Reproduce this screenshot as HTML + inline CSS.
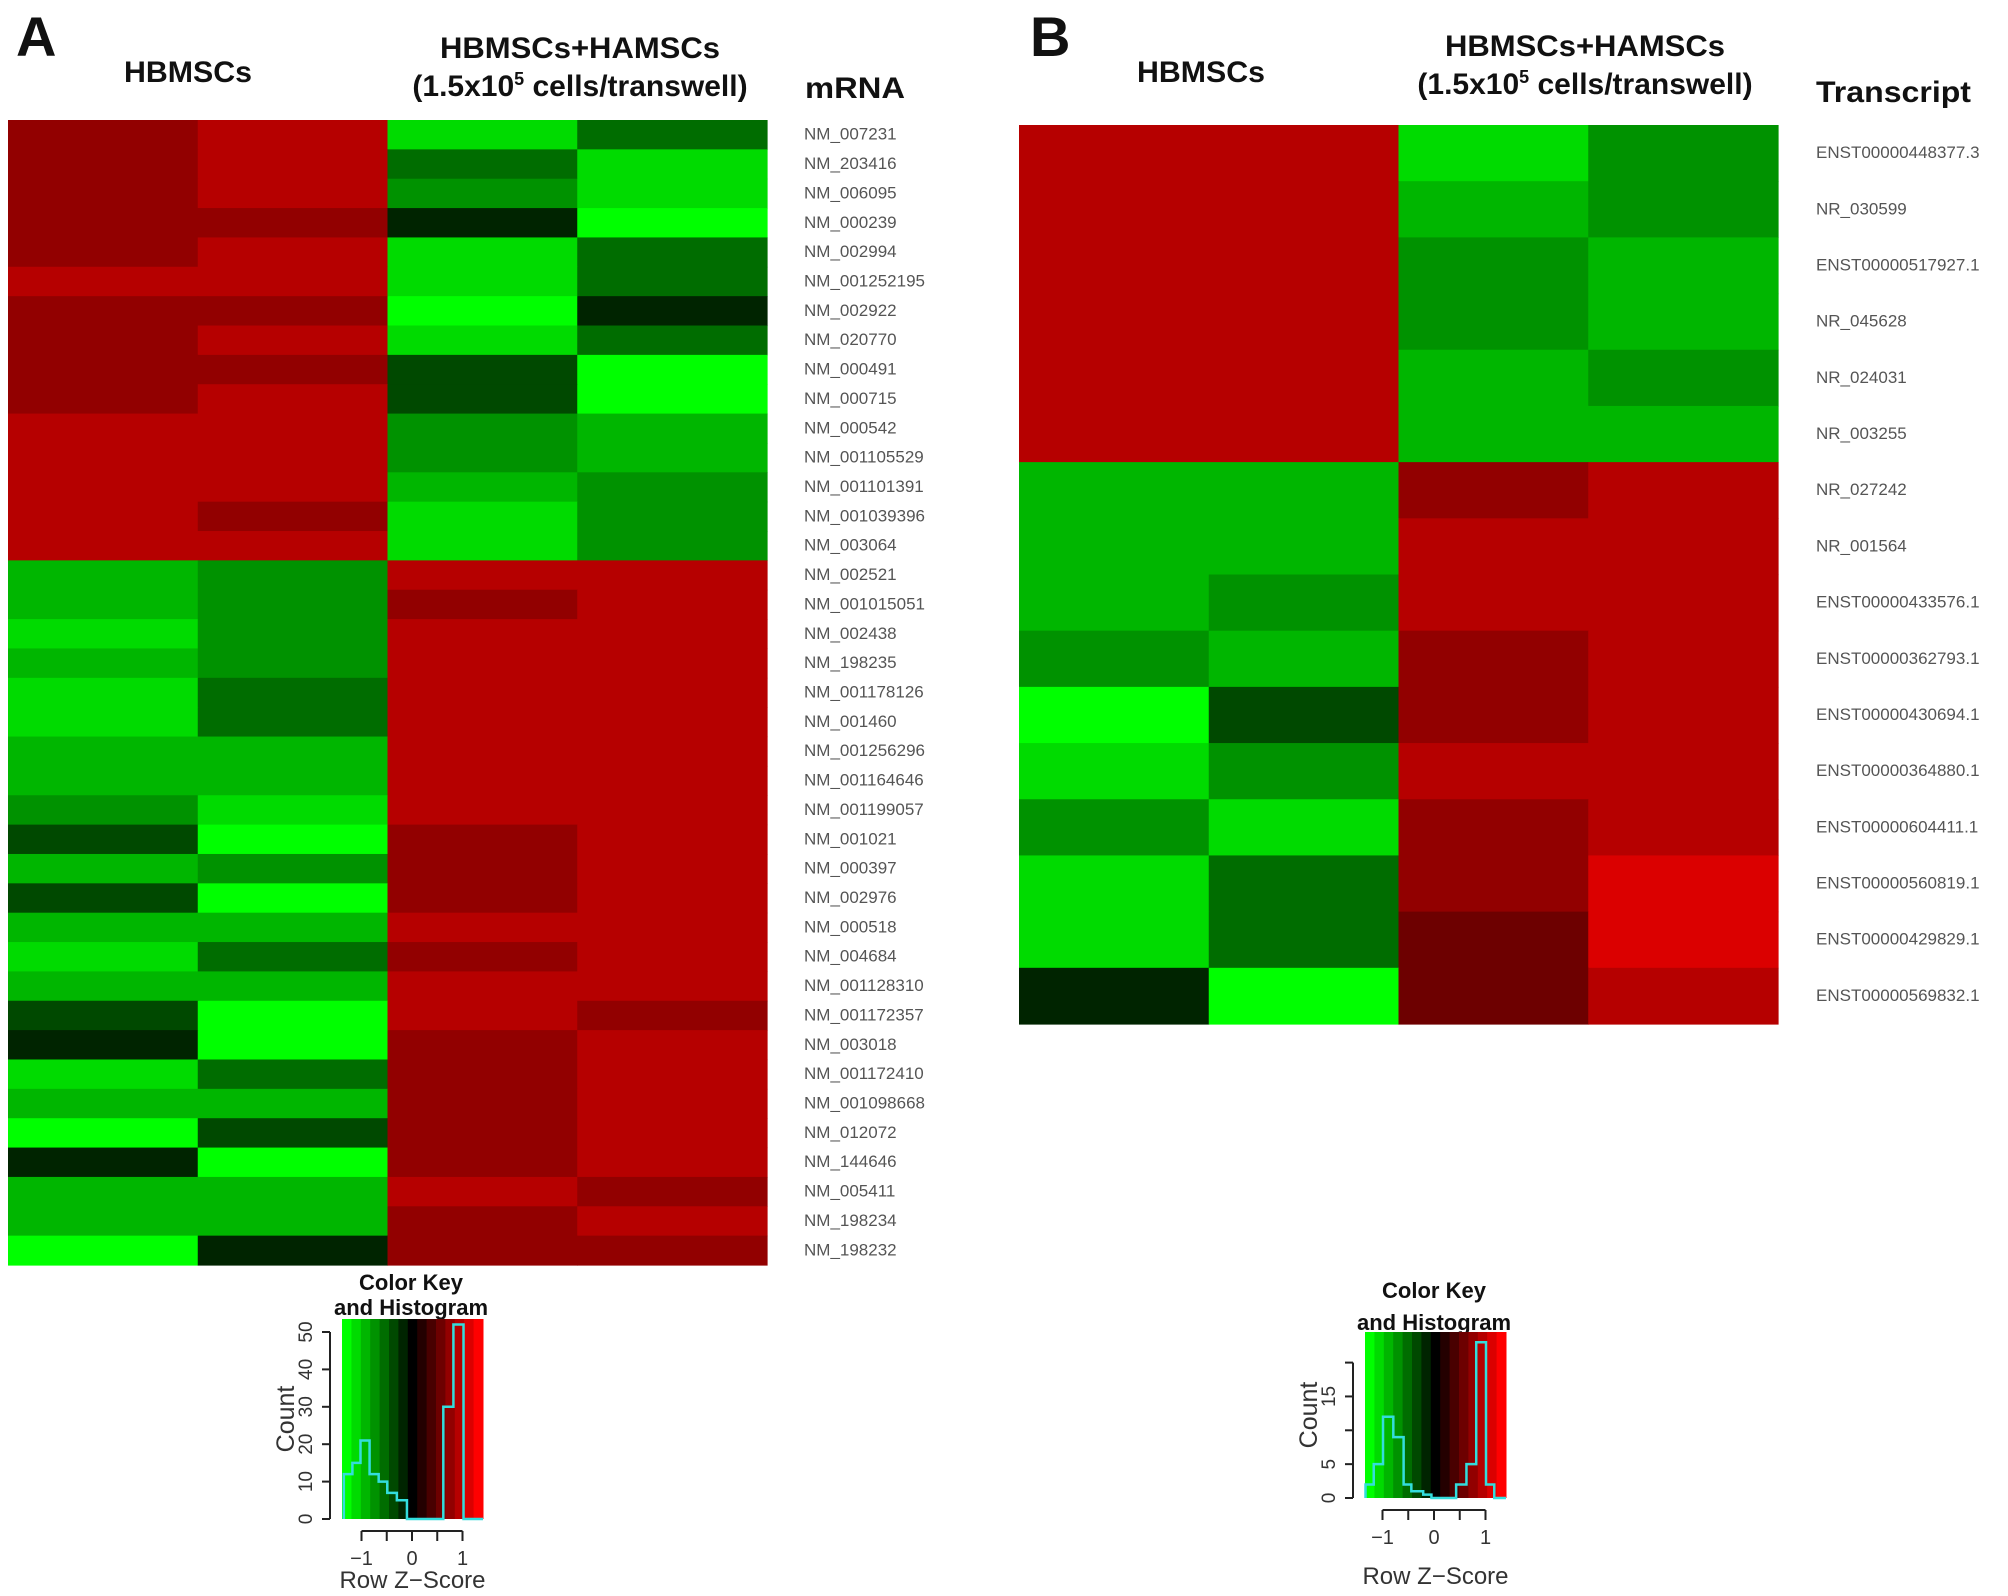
<!DOCTYPE html>
<html><head><meta charset="utf-8"><style>
body{margin:0;background:#fff}
svg{display:block;font-family:"Liberation Sans",sans-serif}
.t{font-weight:bold;fill:#111}
.lab{font-size:17px;fill:#555}
</style></head><body>
<svg id="s" width="2008" height="1596" viewBox="0 0 2008 1596"></svg>
<script>
const labelsA=["NM_007231","NM_203416","NM_006095","NM_000239","NM_002994","NM_001252195","NM_002922","NM_020770","NM_000491","NM_000715","NM_000542","NM_001105529","NM_001101391","NM_001039396","NM_003064","NM_002521","NM_001015051","NM_002438","NM_198235","NM_001178126","NM_001460","NM_001256296","NM_001164646","NM_001199057","NM_001021","NM_000397","NM_002976","NM_000518","NM_004684","NM_001128310","NM_001172357","NM_003018","NM_001172410","NM_001098668","NM_012072","NM_144646","NM_005411","NM_198234","NM_198232"];
const valuesA=[[4,5,-6,-3],[4,5,-3,-6],[4,5,-4,-6],[4,4,-1,-7],[4,5,-6,-3],[5,5,-6,-3],[4,4,-7,-1],[4,5,-6,-3],[4,4,-2,-7],[4,5,-2,-7],[5,5,-4,-5],[5,5,-4,-5],[5,5,-5,-4],[5,4,-6,-4],[5,5,-6,-4],[-5,-4,5,5],[-5,-4,4,5],[-6,-4,5,5],[-5,-4,5,5],[-6,-3,5,5],[-6,-3,5,5],[-5,-5,5,5],[-5,-5,5,5],[-4,-6,5,5],[-2,-7,4,5],[-5,-4,4,5],[-2,-7,4,5],[-5,-5,5,5],[-6,-3,4,5],[-5,-5,5,5],[-2,-7,5,4],[-1,-7,4,5],[-6,-3,4,5],[-5,-5,4,5],[-7,-2,4,5],[-1,-7,4,5],[-5,-5,5,4],[-5,-5,4,5],[-7,-1,4,4]];
const labelsB=["ENST00000448377.3","NR_030599","ENST00000517927.1","NR_045628","NR_024031","NR_003255","NR_027242","NR_001564","ENST00000433576.1","ENST00000362793.1","ENST00000430694.1","ENST00000364880.1","ENST00000604411.1","ENST00000560819.1","ENST00000429829.1","ENST00000569832.1"];
const valuesB=[[5,5,-6,-4],[5,5,-5,-4],[5,5,-4,-5],[5,5,-4,-5],[5,5,-5,-4],[5,5,-5,-5],[-5,-5,4,5],[-5,-5,5,5],[-5,-4,5,5],[-4,-5,4,5],[-7,-2,4,5],[-6,-4,5,5],[-4,-6,4,5],[-6,-3,4,6],[-6,-3,3,6],[-1,-7,3,5]];
const histEdgesA=[-1.35,-1.18,-1.02,-0.84,-0.66,-0.49,-0.30,-0.10,0.62,0.82,1.02];
const histCountsA=[12,15,21,12,10,7,5,0,30,52];
const histEdgesB=[-1.33,-1.17,-0.99,-0.79,-0.59,-0.44,-0.21,-0.05,0.43,0.63,0.82,1.01,1.17];
const histCountsB=[2,5,12,9,2,1,0.5,0,2,5,23,2];
const keyBands=[-7,-6,-5,-4,-3,-2,-1,0,1,2,3,4,5,6,7];

const S=document.getElementById('s');const NS='http://www.w3.org/2000/svg';
function mk(tag,at,txt){const e=document.createElementNS(NS,tag);for(const k in at)e.setAttribute(k,at[k]);if(txt!=null)e.textContent=txt;S.appendChild(e);return e;}
function col(v){const c=Math.min(255,Math.round(Math.abs(v)*36.43));return v<0?`rgb(0,${c},0)`:`rgb(${c},0,0)`;}
function heat(p,labels,vals,x0,x1,y0,y1,lx){
 const cw=(x1-x0)/4,rh=(y1-y0)/vals.length;
 vals.forEach((r,i)=>{r.forEach((v,j)=>{
  const e=mk('rect',{x:x0+j*cw,y:y0+i*rh,width:cw+0.6,height:rh+0.6,fill:col(v)});
  
  });
  const t=mk('text',{x:lx,y:y0+(i+0.5)*rh+5,class:'lab'},labels[i]);
  
  });
}
function key(p,x0,x1,y0,y1,zx,zpx,cpx,edges,counts,ticks,tickLabels,titleY){
 const X=z=>zx+z*zpx, Y=c=>y1-c*cpx;
 const bw=(x1-x0)/keyBands.length;
 keyBands.forEach((b,i)=>{const e=mk('rect',{x:x0+i*bw,y:y0,width:bw+0.5,height:y1-y0,fill:b===0?'#000':col(b)});
  });
 let d='M'+X(edges[0])+','+Y(0);
 counts.forEach((c,i)=>{d+=' L'+X(edges[i])+','+Y(c)+' L'+X(edges[i+1])+','+Y(c);});
 d+=' L'+X(edges[edges.length-1])+','+Y(0)+' L'+x1+','+Y(0);
 const h=mk('path',{d:d,fill:'none',stroke:'#33dddd','stroke-width':2.5});
 
 mk('line',{x1:x0-12,y1:Y(0),x2:x0-12,y2:Y(ticks[ticks.length-1]),stroke:'#222','stroke-width':2});
 ticks.forEach((t,i)=>{mk('line',{x1:x0-20,y1:Y(t),x2:x0-12,y2:Y(t),stroke:'#222','stroke-width':2});
  if(tickLabels[i]!==''){const e=mk('text',{x:x0-30,y:Y(t),transform:`rotate(-90 ${x0-30} ${Y(t)})`,'text-anchor':'middle','font-size':19,fill:'#333'},tickLabels[i]);
  }});
 mk('line',{x1:X(-1),y1:y1+12,x2:X(1),y2:y1+12,stroke:'#222','stroke-width':2});
 [-1,-0.5,0,0.5,1].forEach(z=>{mk('line',{x1:X(z),y1:y1+12,x2:X(z),y2:y1+22,stroke:'#222','stroke-width':2});});
 [-1,0,1].forEach(z=>{
  const e=mk('text',{x:X(z),y:y1+46,'text-anchor':'middle','font-size':20,fill:'#333'},z===-1?'\u22121':String(z));
  });
 const cx=(x0+x1)/2;
 let e=mk('text',{x:cx,y:titleY,'text-anchor':'middle','font-size':24,fill:'#333'},'Row Z\u2212Score');
 
 e=mk('text',{x:x0-48,y:(y0+y1)/2,transform:`rotate(-90 ${x0-48} ${(y0+y1)/2})`,'text-anchor':'middle','font-size':25,fill:'#333'},'Count');
 
}
function title(p,txt,x,y,size,anchor,len){const a={x:x,y:y,class:'t','font-size':size,'text-anchor':anchor};if(len){a.textLength=len;a.lengthAdjust='spacingAndGlyphs';}
 const e=mk('text',a,txt);return e;}

heat('a',labelsA,valuesA,8,767,120,1265,804);
heat('b',labelsB,valuesB,1019,1778,125,1024,1816);

title('panel-a-letter','A',16,56,56,'start');
title('panel-b-letter','B',1030,56,56,'start');
title('a-hbmscs-title','HBMSCs',188,82,30,'middle',128);
title('a-coculture-title','HBMSCs+HAMSCs',580,58,30,'middle',280);
let t=title('a-coculture-subtitle','',580,96,30,'middle');
t.innerHTML='(1.5x10<tspan font-size="18" dy="-11">5</tspan><tspan dy="11"> cells/transwell)</tspan>';
title('a-mrna-header','mRNA',805,98,30,'start',100);
title('b-hbmscs-title','HBMSCs',1201,82,30,'middle',128);
title('b-coculture-title','HBMSCs+HAMSCs',1585,56,30,'middle',280);
t=title('b-coculture-subtitle','',1585,94,30,'middle');
t.innerHTML='(1.5x10<tspan font-size="18" dy="-11">5</tspan><tspan dy="11"> cells/transwell)</tspan>';
title('b-transcript-header','Transcript',1816,102,30,'start',155);

title('a-key-title','Color Key',411,1290,22,'middle');
title('a-key-subtitle','and Histogram',411,1315,22,'middle');
key('a',342,483,1319,1519,412,50.5,3.74,histEdgesA,histCountsA,[0,10,20,30,40,50],['0','10','20','30','40','50'],1588);
title('b-key-title','Color Key',1434,1298,22,'middle');
title('b-key-subtitle','and Histogram',1434,1330,22,'middle');
key('b',1365,1506,1332,1498,1434,51.5,6.77,histEdgesB,histCountsB,[0,5,10,15,20],['0','5','','15',''],1584);
</script>
</body></html>
